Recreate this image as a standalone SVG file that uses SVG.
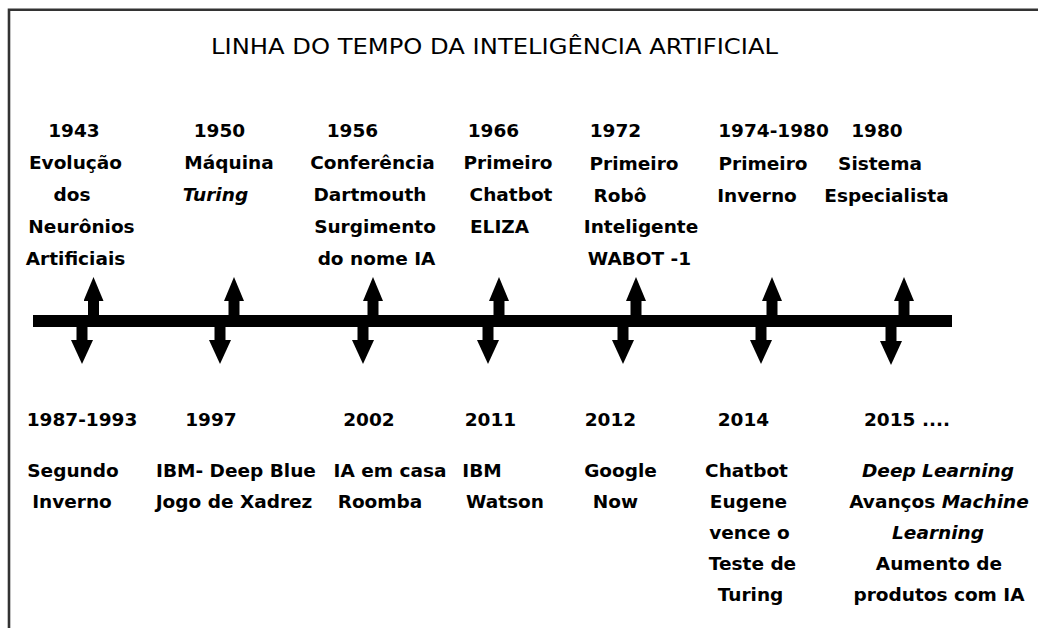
<svg xmlns="http://www.w3.org/2000/svg" width="1038" height="628" viewBox="0 0 1038 628">
<defs>
<style>
.t{font-family:"DejaVu Sans","Liberation Sans",sans-serif;font-weight:bold;font-size:18.5px;fill:#000;text-anchor:middle}
.i{font-style:italic}
.title{font-family:"DejaVu Sans","Liberation Sans",sans-serif;font-size:21px;fill:#000}
.arr{stroke:#000;stroke-width:11;fill:none}
</style>
<marker id="hu" viewBox="0 0 24 20" refX="0" refY="10" markerWidth="24" markerHeight="20" markerUnits="userSpaceOnUse" orient="auto"><path d="M0,0 L24,10 L0,20 z" fill="#000"/></marker>
<marker id="hd" viewBox="0 0 24 22" refX="0" refY="11" markerWidth="24" markerHeight="22" markerUnits="userSpaceOnUse" orient="auto"><path d="M0,0 L24,11 L0,22 z" fill="#000"/></marker>
</defs>
<rect width="1038" height="628" fill="#fff"/>
<g id="frame"><path d="M9,628 L9,9.7 L1038,9.7" fill="none" stroke="#333" stroke-width="2.6"/></g>
<text id="title" class="title" x="211" y="54" textLength="567" lengthAdjust="spacingAndGlyphs">LINHA DO TEMPO DA INTELIGÊNCIA ARTIFICIAL</text>
<g id="connectors">
<rect x="33" y="315" width="919" height="12" fill="#000"/>
<g class="arr" marker-end="url(#hu)">
<line x1="93.5" y1="316" x2="93.5" y2="301"/>
<line x1="234" y1="316" x2="234" y2="301"/>
<line x1="373" y1="316" x2="373" y2="301"/>
<line x1="499" y1="316" x2="499" y2="301"/>
<line x1="636" y1="316" x2="636" y2="301"/>
<line x1="772" y1="316" x2="772" y2="301"/>
<line x1="904" y1="316" x2="904" y2="301"/>
</g>
<g class="arr" marker-end="url(#hd)">
<line x1="82" y1="326" x2="82" y2="340"/>
<line x1="220" y1="326" x2="220" y2="340"/>
<line x1="363" y1="326" x2="363" y2="340"/>
<line x1="488" y1="326" x2="488" y2="340"/>
<line x1="623" y1="326" x2="623" y2="340"/>
<line x1="761" y1="326" x2="761" y2="340"/>
<line x1="891" y1="326" x2="891" y2="341"/>
</g>
</g>
<g id="ev1943" class="t"><text x="74" y="137">1943</text><text x="75.5" y="169">Evolução</text><text x="72" y="201">dos</text><text x="81.5" y="233">Neurônios</text><text x="75.5" y="265">Artificiais</text></g>
<g id="ev1950" class="t"><text x="219.5" y="137">1950</text><text x="229" y="169">Máquina</text><text class="i" x="215.5" y="201">Turing</text></g>
<g id="ev1956" class="t"><text x="352.5" y="137">1956</text><text x="372.5" y="169">Conferência</text><text x="370" y="201">Dartmouth</text><text x="375" y="233">Surgimento</text><text x="376.5" y="265">do nome IA</text></g>
<g id="ev1966" class="t"><text x="493.5" y="137">1966</text><text x="508" y="169">Primeiro</text><text x="511" y="201">Chatbot</text><text x="499.5" y="233">ELIZA</text></g>
<g id="ev1972" class="t"><text x="615.5" y="137">1972</text><text x="634" y="170">Primeiro</text><text x="620" y="202">Robô</text><text x="641" y="233">Inteligente</text><text x="639.5" y="265">WABOT -1</text></g>
<g id="ev1974" class="t"><text x="773.5" y="137">1974-1980</text><text x="763" y="170">Primeiro</text><text x="757" y="202">Inverno</text></g>
<g id="ev1980" class="t"><text x="877" y="137">1980</text><text x="880" y="170">Sistema</text><text x="886.5" y="202">Especialista</text></g>
<g id="ev1987" class="t"><text x="82" y="426">1987-1993</text><text x="73" y="477">Segundo</text><text x="72" y="508">Inverno</text></g>
<g id="ev1997" class="t"><text x="211" y="426">1997</text><text x="236" y="477">IBM- Deep Blue</text><text x="234" y="508">Jogo de Xadrez</text></g>
<g id="ev2002" class="t"><text x="369" y="426">2002</text><text x="390" y="477">IA em casa</text><text x="380" y="508">Roomba</text></g>
<g id="ev2011" class="t"><text x="490.5" y="426">2011</text><text x="482" y="477">IBM</text><text x="505" y="508">Watson</text></g>
<g id="ev2012" class="t"><text x="610.5" y="426">2012</text><text x="620.5" y="477">Google</text><text x="615.5" y="508">Now</text></g>
<g id="ev2014" class="t"><text x="743.5" y="426">2014</text><text x="746.5" y="477">Chatbot</text><text x="748.5" y="508">Eugene</text><text x="749.5" y="539">vence o</text><text x="752.5" y="570">Teste de</text><text x="750.5" y="601">Turing</text></g>
<g id="ev2015" class="t"><text x="907" y="426">2015 ....</text><text class="i" x="938" y="477">Deep Learning</text><text x="939" y="508">Avanços <tspan class="i">Machine</tspan></text><text class="i" x="938" y="539">Learning</text><text x="939" y="570">Aumento de</text><text x="939" y="601">produtos com IA</text></g>
</svg>
